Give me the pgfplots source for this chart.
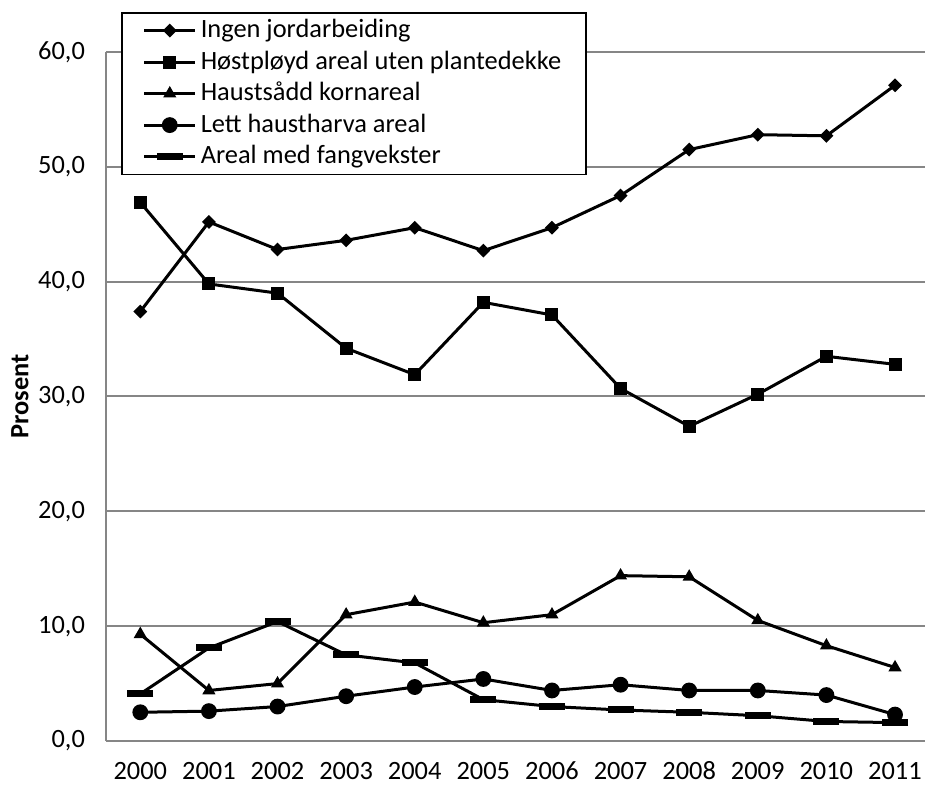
\documentclass[border=0pt]{standalone}
\usepackage{fontspec}
\setmainfont{Carlito}
\usepackage{pgfplots}
\pgfplotsset{compat=1.18}
\definecolor{gridgray}{HTML}{868686}

\newcommand{\chartfont}{\fontsize{13.2}{15}\selectfont}

\begin{document}
\begin{tikzpicture}
% picture frame: 925x785 px at 0.5pt per px
\useasboundingbox (-53pt,-22pt) rectangle (409.5pt,370.5pt);
\begin{axis}[
  at={(0pt,0pt)}, anchor=south west,
  scale only axis, width=409.5pt, height=344.5pt,
  xmin=1999.5, xmax=2011.437, ymin=0, ymax=60,
  axis x line*=bottom, axis y line*=left,
  axis line style={gridgray, line width=1pt},
  major tick length=0pt,
  xtick={2000,...,2011}, ytick={0,10,...,60},
  ymajorgrids, grid style={gridgray, line width=1pt},
  /pgf/number format/assume math mode=true,
  tick label style={font=\chartfont, black},
  xticklabel style={anchor=north, text height=9.2pt, text depth=0pt, inner ysep=1pt, yshift=-9pt,
    /pgf/number format/.cd, set thousands separator={}},
  yticklabel style={xshift=-7pt, /pgf/number format/.cd, fixed, fixed zerofill, precision=1, use comma},
  ylabel={Prosent},
  every axis y label/.style={at={(axis description cs:-0.105,0.5)}, rotate=90, anchor=center,
    font=\chartfont\bfseries},
  every axis plot/.append style={black, line width=1.5pt},
  legend cell align=left,
  legend image code/.code={\draw[mark repeat=2, mark phase=2] plot coordinates {(0pt,0pt) (12.75pt,0pt) (25.5pt,0pt)};},
  legend style={
    at={(axis description cs:0.0183,1.058)}, anchor=north west,
    draw=black, line width=0.8pt, fill=white,
    inner xsep=10.5pt, inner ysep=1pt, row sep=0pt,
    font=\chartfont,
    nodes={inner xsep=2pt, inner ysep=1pt, text height=10.5pt, text depth=3.25pt},
  },
]
% Ingen jordarbeiding
\addplot[mark=square*, mark size=1.7pt, mark options={rotate=45, solid}] coordinates {
  (2000,37.4) (2001,45.2) (2002,42.8) (2003,43.6) (2004,44.7) (2005,42.7)
  (2006,44.7) (2007,47.5) (2008,51.5) (2009,52.8) (2010,52.7) (2011,57.1)};
% Hostployd
\addplot[mark=square*, mark size=2.5pt] coordinates {
  (2000,46.9) (2001,39.8) (2002,39.0) (2003,34.2) (2004,31.9) (2005,38.2)
  (2006,37.1) (2007,30.7) (2008,27.4) (2009,30.2) (2010,33.5) (2011,32.8)};
% Haustsadd
\addplot[mark=triangle*, mark size=2.3pt] coordinates {
  (2000,9.3) (2001,4.4) (2002,5.0) (2003,11.0) (2004,12.1) (2005,10.3)
  (2006,11.0) (2007,14.4) (2008,14.3) (2009,10.5) (2010,8.3) (2011,6.4)};
% Lett haustharva
\addplot[mark=*, mark size=3.2pt] coordinates {
  (2000,2.5) (2001,2.6) (2002,3.0) (2003,3.9) (2004,4.7) (2005,5.4)
  (2006,4.4) (2007,4.9) (2008,4.4) (2009,4.4) (2010,4.0) (2011,2.3)};
% Fangvekster
\addplot[mark=-, mark size=6.5pt, mark options={line width=3.5pt}] coordinates {
  (2000,4.1) (2001,8.1) (2002,10.4) (2003,7.5) (2004,6.8) (2005,3.6)
  (2006,3.0) (2007,2.7) (2008,2.5) (2009,2.2) (2010,1.7) (2011,1.6)};
\legend{Ingen jordarbeiding, Høstpløyd areal uten plantedekke, Haustsådd kornareal, Lett haustharva areal, Areal med fangvekster}
\end{axis}
\end{tikzpicture}
\end{document}
